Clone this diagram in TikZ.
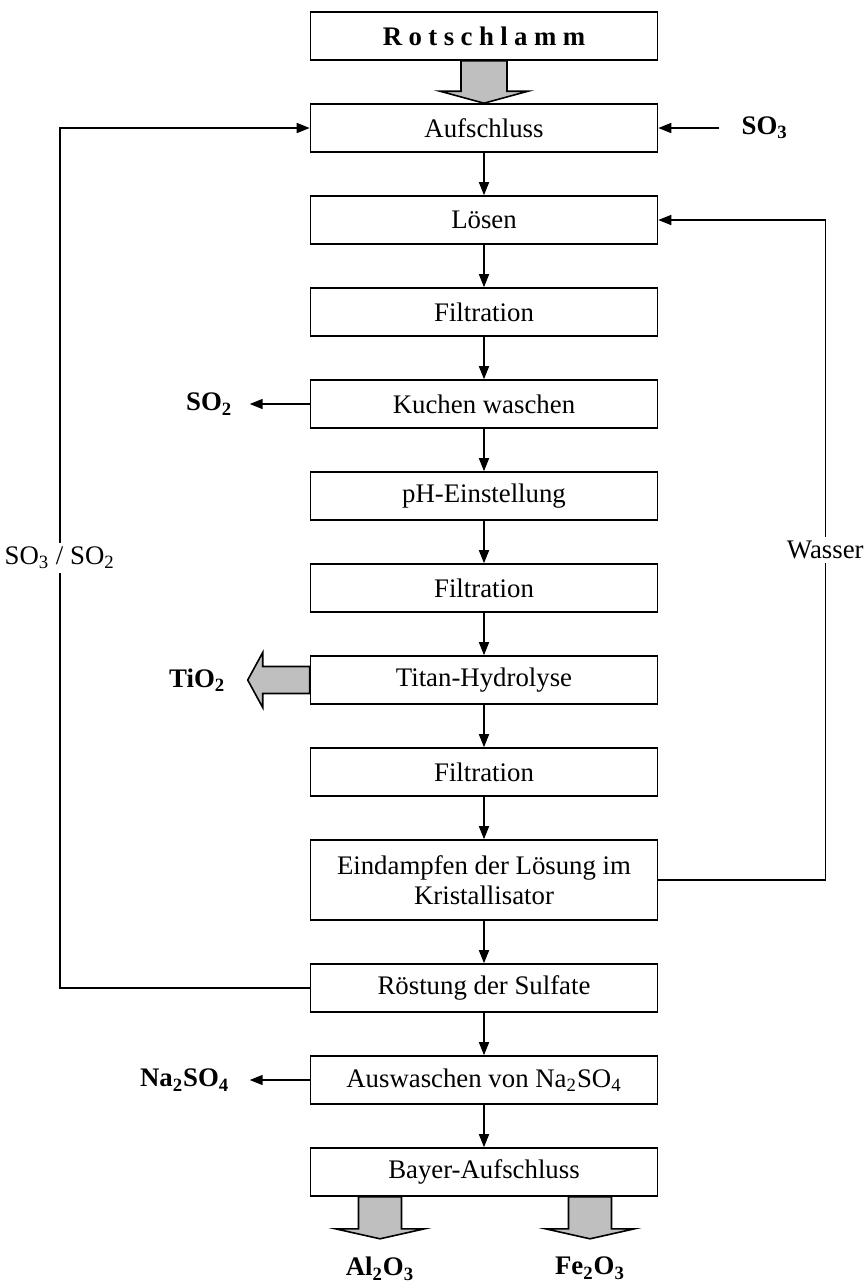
\documentclass[tikz,border=0pt]{standalone}
\usepackage{fontspec}
\setmainfont{Liberation Serif}
\usetikzlibrary{arrows.meta, positioning}

\begin{document}
\begin{tikzpicture}[
  node distance=21.2pt,
  stage/.style={draw, line width=0.8pt, minimum width=173.5pt, minimum height=24pt,
    inner sep=2pt, align=center, font=\fontsize{13.4pt}{15.3pt}\selectfont},
  product/.style={inner sep=0pt, font=\fontsize{13.4pt}{15.3pt}\selectfont\bfseries},
  looplabel/.style={fill=white, inner sep=2pt, font=\fontsize{13.4pt}{15.3pt}\selectfont},
  arrow/.style={-{Triangle[length=6.5pt, width=5pt]}, line width=0.8pt},
  blockarrow/.style={draw, line width=0.8pt, fill=gray!50, line join=miter},
]
  \useasboundingbox (0,0) rectangle (434pt,-641pt);

  % Process chain
  \node[stage, font=\fontsize{13.4pt}{15.3pt}\selectfont\bfseries] (rot) at (242pt,-18pt)
    {\addfontfeatures{LetterSpace=24}Rotschlamm};
  \node[stage, below=of rot] (auf) {Aufschluss};
  \node[stage, below=of auf] (loesen) {Lösen};
  \node[stage, below=of loesen] (filt1) {Filtration};
  \node[stage, below=of filt1] (kuchen) {Kuchen waschen};
  \node[stage, below=of kuchen] (ph) {pH-Einstellung};
  \node[stage, below=of ph] (filt2) {Filtration};
  \node[stage, below=of filt2] (titan) {Titan-Hydrolyse};
  \node[stage, below=of titan] (filt3) {Filtration};
  \node[stage, minimum height=40pt, below=of filt3] (eind)
    {Eindampfen der Lösung im\\Kristallisator};
  \node[stage, below=of eind] (roest) {Röstung der Sulfate};
  \node[stage, below=of roest] (ausw) {Auswaschen von Na\textsubscript{2}SO\textsubscript{4}};
  \node[stage, below=of ausw] (bayer) {Bayer-Aufschluss};

  % Flow arrows
  \draw[arrow] (auf) -- (loesen);
  \draw[arrow] (loesen) -- (filt1);
  \draw[arrow] (filt1) -- (kuchen);
  \draw[arrow] (kuchen) -- (ph);
  \draw[arrow] (ph) -- (filt2);
  \draw[arrow] (filt2) -- (titan);
  \draw[arrow] (titan) -- (filt3);
  \draw[arrow] (filt3) -- (eind);
  \draw[arrow] (eind) -- (roest);
  \draw[arrow] (roest) -- (ausw);
  \draw[arrow] (ausw) -- (bayer);

  % Feed block arrow
  \draw[blockarrow] ([xshift=-11.5pt]rot.south) -- ++(0,-15.2pt) -- ++(-10.5pt,0)
    -- (auf.north) -- ++(22pt,6pt) -- ++(-10.5pt,0) -- ++(0,15.2pt) -- cycle;

  % SO3 in
  \node[product, right=41.5pt of auf] (so3) {SO\textsubscript{3}};
  \coordinate (so3start) at ([xshift=-11pt]so3.west);
  \draw[arrow] (so3start) -- (auf.east);

  % SO2 out
  \coordinate (so2tip) at ([xshift=-30pt]kuchen.west);
  \draw[arrow] (kuchen.west) -- (so2tip);
  \node[product, left=8.5pt of so2tip] (so2) {SO\textsubscript{2}};

  % TiO2 out
  \coordinate (titip) at ([xshift=-31pt]titan.west);
  \draw[blockarrow] ([yshift=6.75pt]titan.west) -- ++(-23.5pt,0) -- ++(0,7pt)
    -- (titip) -- ++(7.5pt,-13.75pt) -- ++(0,7pt) -- ++(23.5pt,0) -- cycle;
  \node[product, left=11pt of titip] (tio) {TiO\textsubscript{2}};

  % Na2SO4 out
  \coordinate (natip) at ([xshift=-30pt]ausw.west);
  \draw[arrow] (ausw.west) -- (natip);
  \node[product, left=10pt of natip] (na) {Na\textsubscript{2}SO\textsubscript{4}};

  % Recycle loops
  \draw[arrow] (roest.west) -- ++(-125pt,0) |- (auf.west)
    node[looplabel, pos=0.25] {SO\textsubscript{3} / SO\textsubscript{2}};
  \draw[arrow] (eind.east) -- ++(83.5pt,0) |- (loesen.east)
    node[looplabel, pos=0.25] {Wasser};

  % Products
  \coordinate (altip) at ([xshift=-52pt, yshift=-21pt]bayer.south);
  \coordinate (fetip) at ([xshift=53pt, yshift=-21pt]bayer.south);
  \draw[blockarrow] ([xshift=-62.75pt]bayer.south) -- ++(0,-16pt) -- ++(-11.5pt,0)
    -- (altip) -- ++(22.25pt,5pt) -- ++(-11.5pt,0) -- ++(0,16pt) -- cycle;
  \draw[blockarrow] ([xshift=42.25pt]bayer.south) -- ++(0,-16pt) -- ++(-11.5pt,0)
    -- (fetip) -- ++(22.25pt,5pt) -- ++(-11.5pt,0) -- ++(0,16pt) -- cycle;
  \node[product, below=9pt of altip] (al) {Al\textsubscript{2}O\textsubscript{3}};
  \node[product, below=9pt of fetip] (fe) {Fe\textsubscript{2}O\textsubscript{3}};

\end{tikzpicture}
\end{document}
